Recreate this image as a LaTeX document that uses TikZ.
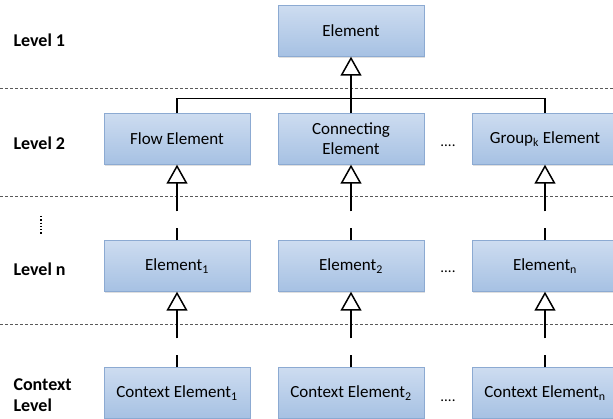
\documentclass[tikz,border=0pt]{standalone}
\usepackage{fontspec}
\setmainfont{Carlito}
\usetikzlibrary{arrows.meta,shadows}
\definecolor{boxtop}{RGB}{205,220,240}
\definecolor{boxbot}{RGB}{166,193,227}
\definecolor{boxline}{RGB}{140,170,210}
\tikzset{
	elem/.style={draw=boxline, top color=boxtop, bottom color=boxbot, minimum width=146pt, minimum height=51pt, inner sep=2pt, align=center, font=\fontsize{17}{20}\selectfont, drop shadow={opacity=0.25,shadow xshift=1pt,shadow yshift=-1.2pt}},
	lvl/.style={anchor=west, align=left, font=\bfseries\fontsize{18}{21}\selectfont},
	sep/.style={black!65, dash pattern=on 3pt off 2pt, line width=0.7pt},
	inh/.style={line width=1.5pt, -{Triangle[open,length=19pt,width=21pt,line width=1.5pt]}},
	more/.style={inner sep=0pt, font=\fontsize{15}{15}\selectfont}
}
\begin{document}
\begin{tikzpicture}[x=1pt,y=-1pt]
	\useasboundingbox (0,0) rectangle (613,419);
	% level separators
	\foreach \y in {88,196,324}
	{ \draw[sep] (0,\y) -- (613,\y);
	}
	% level names
	\node[lvl] (lv1) at (10,40) {Level 1};
	\node[lvl] (lv2) at (10,143) {Level 2};
	\node[lvl] (lvn) at (10,269) {Level n};
	\node[lvl] (lvc) at (10,395) {Context\\Level};
	\draw[dotted, line width=1.3pt] (41,216) -- (41,234);
	
	% elements
	\node[elem] (top) at (351,31) {Element};
	\node[elem] (flow) at (177,139) {Flow Element};
	\node[elem] (conn) at (351,139) {Connecting\\Element};
	\node[elem] (grp) at (545,139) {Group\textsubscript{k} Element};
	\node[elem] (e1) at (177,266) {Element\textsubscript{1}};
	\node[elem] (e2) at (351,266) {Element\textsubscript{2}};
	\node[elem] (en) at (545,266) {Element\textsubscript{n}};
	\node[elem] (c1) at (177,393) {Context Element\textsubscript{1}};
	\node[elem] (c2) at (351,393) {Context Element\textsubscript{2}};
	\node[elem] (cn) at (545,393) {Context Element\textsubscript{n}};
	\node[more] (m2) at (448,146) {....};
	\node[more] (mn) at (448,272) {....};
	\node[more] (mc) at (448,401) {....};
	
	% inheritance
	\draw[line width=1.5pt] (flow.north) -- ++(0,-15) -| (grp.north);
	\draw[inh] (conn.north) -- (top.south);
	\foreach \a/\b in {e1/flow,e2/conn,en/grp,c1/e1,c2/e2,cn/en}
	{ \draw[line width=1.5pt] (\a.north) -- ++(0,-12) coordinate (s\a);
	  \draw[inh] (s\a) ++(0,-17) -- (\b.south);
	}
\end{tikzpicture}
\end{document}
